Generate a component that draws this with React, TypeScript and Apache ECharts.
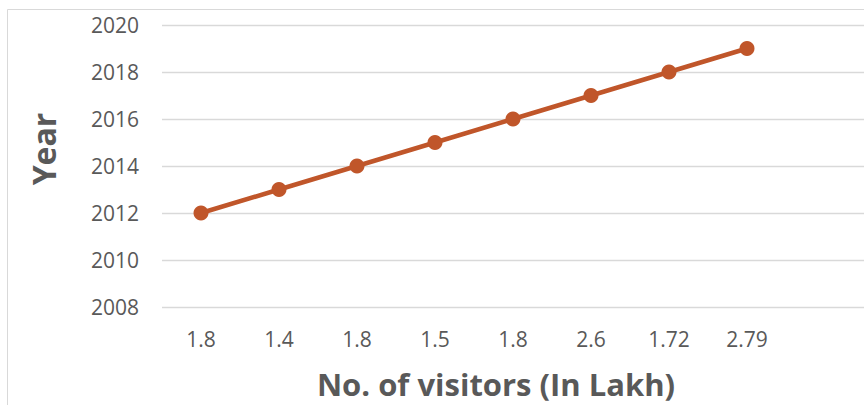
import React, { useEffect, useRef } from "react";
import * as echarts from "echarts";

const categories = ["1.8", "1.4", "1.8", "1.5", "1.8", "2.6", "1.72", "2.79", ""];
const years = [2012, 2013, 2014, 2015, 2016, 2017, 2018, 2019, null];
const yMin = 2008;
const yMax = 2020;
const yStep = 2;

export default function App() {
  const ref = useRef<HTMLDivElement>(null);
  useEffect(() => {
    document.body.style.margin = "0";
    const chart = echarts.init(ref.current!, undefined, { renderer: "svg" });
    const font = "'Open Sans', sans-serif";
    chart.setOption({
      animation: false,
      backgroundColor: "#ffffff",
      grid: { left: 162, right: 0, top: 25, bottom: 98, containLabel: false },
      xAxis: {
        type: "category",
        data: categories,
        boundaryGap: true,
        axisLine: { show: false },
        axisTick: { show: false },
        axisLabel: { color: "#595959", fontSize: 21, fontFamily: font, margin: 21, interval: 0 },
        splitLine: { show: false },
      },
      yAxis: {
        type: "value",
        min: yMin,
        max: yMax,
        interval: yStep,
        axisLine: { show: false },
        axisTick: { show: false },
        axisLabel: {
          color: "#595959",
          fontSize: 21,
          fontFamily: font,
          margin: 23,
          formatter: (v: number) => String(v),
        },
        splitLine: { lineStyle: { color: "#d9d9d9", width: 1.3 } },
      },
      graphic: [
        {
          type: "rect",
          shape: { x: 7.5, y: 9.5, width: 1000, height: 600 },
          style: { fill: "none", stroke: "#d9d9d9", lineWidth: 1 },
          silent: true,
        },
        {
          type: "text",
          x: 43,
          y: 149,
          rotation: Math.PI / 2,
          style: {
            text: "Year",
            fill: "#595959",
            font: `bold 32px ${font}`,
            align: "center",
            verticalAlign: "middle",
          },
        },
        {
          type: "text",
          x: 496,
          y: 384,
          style: {
            text: "No. of visitors (In Lakh)",
            fill: "#595959",
            font: `bold 31px ${font}`,
            align: "center",
            verticalAlign: "middle",
          },
        },
      ],
      series: [
        {
          type: "line",
          data: years,
          symbol: "circle",
          symbolSize: 15,
          lineStyle: { color: "#C0562A", width: 4.5 },
          itemStyle: { color: "#C0562A" },
        },
      ],
    });
    return () => chart.dispose();
  }, []);
  return <div ref={ref} style={{ width: 864, height: 405 }} />;
}
